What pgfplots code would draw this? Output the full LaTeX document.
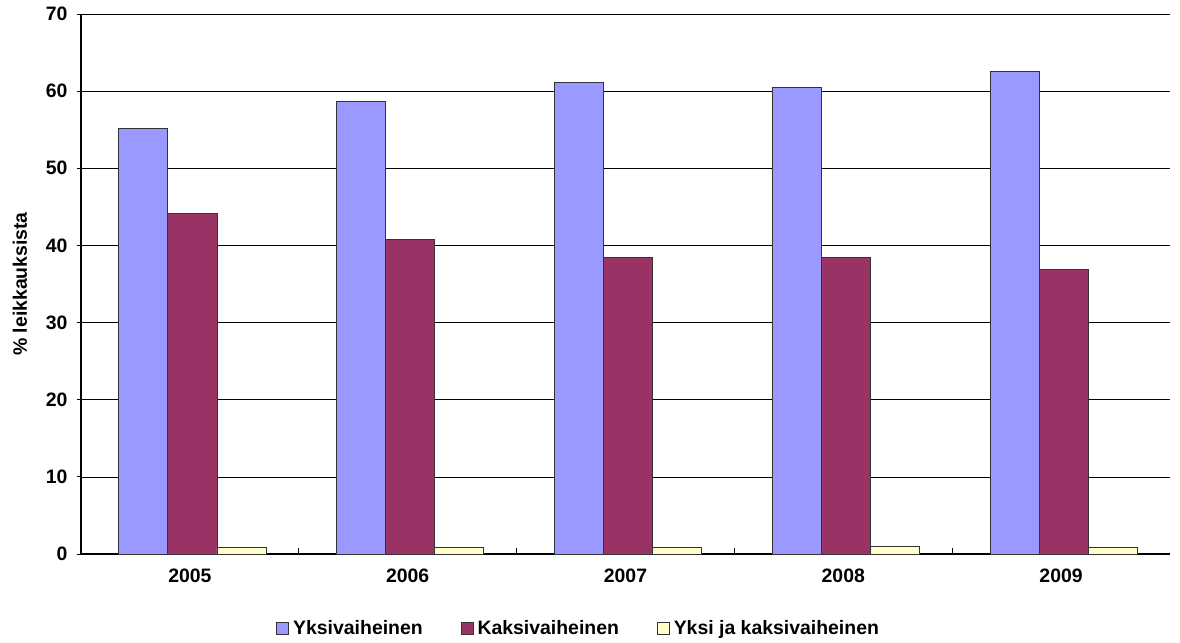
\documentclass[border=0pt]{standalone}
\usepackage{pgfplots}
\pgfplotsset{compat=1.18}
\usepackage{fontspec}
\setmainfont{Liberation Sans}
\definecolor{cblue}{HTML}{9999FF}
\definecolor{cred}{HTML}{993366}
\definecolor{cyel}{HTML}{FFFFCC}
\newcommand{\ff}{\fontsize{19.5}{23}\selectfont\bfseries}
\begin{document}
\begin{tikzpicture}
\begin{axis}[
  at={(0,0)}, anchor=south west,
  scale only axis, width=1089bp, height=540bp,
  xmin=-0.5, xmax=4.5, ymin=0, ymax=70,
  ytick={0,10,...,70},
  xtick={0,1,2,3,4},
  xticklabels={2005,2006,2007,2008,2009},
  extra x ticks={0.5,1.5,2.5,3.5},
  extra x tick labels={},
  extra x tick style={x tick style={draw=black, line width=0.8pt}, major tick length=6bp, tick align=inside},
  x tick style={draw=none},
  y tick style={black, line width=0.8pt},
  major tick length=4bp,
  tick align=outside,
  ymajorgrids, grid style={black, line width=0.6pt},
  axis line style={black, line width=1.2pt},
  axis x line*=bottom, axis y line*=left,
  /pgf/number format/assume math mode=true,
  tick label style={font=\ff},
  label style={font=\ff},
  yticklabel style={xshift=-6bp},
  xticklabel style={yshift=-7bp},
  ylabel={\% leikkauksista},
  ylabel style={at={(axis description cs:-0.0560,0.5)}, anchor=center, rotate=0},
  ybar, bar width=49bp,
  legend style={draw=none, font=\ff, at={(0.457,-0.137)}, anchor=center, legend columns=3,
    /tikz/every odd column/.append style={column sep=2bp},
    /tikz/every even column/.append style={column sep=36bp}},
  legend image code/.code={\draw[#1, line width=0.8pt] (0bp,-6bp) rectangle (12bp,6bp);},
]
\addplot[fill=cblue, draw=black!80, line width=0.8pt, bar shift=-46.5bp] coordinates {(0,55.2) (1,58.7) (2,61.1) (3,60.5) (4,62.5)};
\addplot[fill=cred, draw=black!80, line width=0.8pt, bar shift=2.5bp] coordinates {(0,44.2) (1,40.8) (2,38.4) (3,38.5) (4,36.9)};
\addplot[fill=cyel, draw=black!80, line width=0.8pt, bar shift=51.5bp] coordinates {(0,0.8) (1,0.8) (2,0.8) (3,0.95) (4,0.8)};
\legend{Yksivaiheinen, Kaksivaiheinen, Yksi ja kaksivaiheinen}
\end{axis}
\pgfresetboundingbox
\path[use as bounding box] (-81bp,-89bp) rectangle (1099bp,554bp);
\end{tikzpicture}
\end{document}
